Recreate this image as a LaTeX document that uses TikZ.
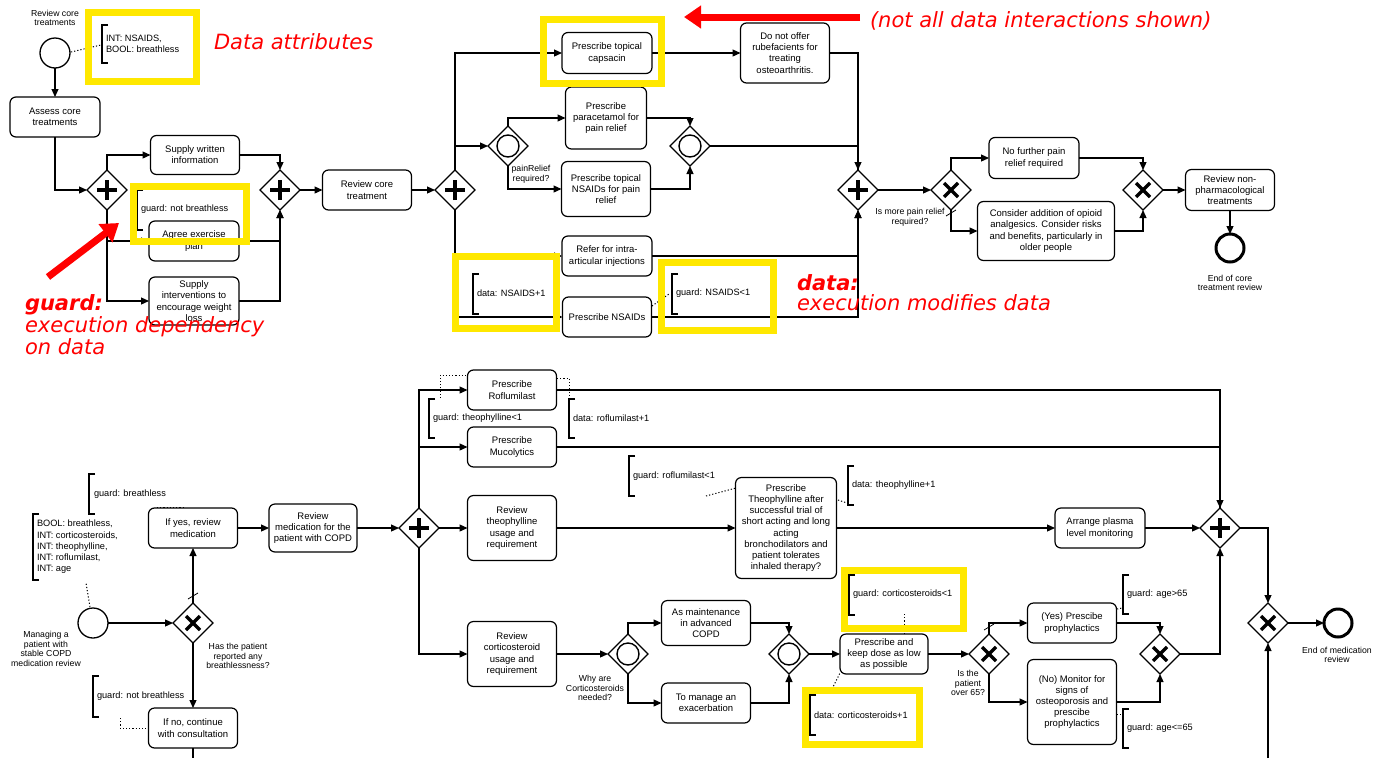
\documentclass[tikz,border=0pt]{standalone}
\usepackage{fontspec}
\setmainfont{Liberation Sans}
\newfontfamily\redf{DejaVu Sans}[ItalicFont={DejaVu Sans Oblique},BoldItalicFont={DejaVu Sans Bold Oblique},BoldFont={DejaVu Sans Bold}]
\usetikzlibrary{shapes.geometric,arrows.meta}
\definecolor{hl}{RGB}{255,232,0}
\definecolor{rd}{RGB}{255,0,0}
\newcommand{\brkt}[3]{\draw[line width=1.2pt] (#1+6,#2) -- (#1,#2) -- (#1,#3) -- (#1+6,#3);}
\begin{document}
\begin{tikzpicture}[x=1pt,y=-1pt,
  every node/.style={inner sep=0pt, outer sep=0pt},
  task/.style={draw, line width=1.2pt, rounded corners=6pt, align=center, font=\fontsize{9.5}{11.2}\selectfont},
  box/.style 2 args={task, minimum width=#1pt, minimum height=#2pt},
  gw/.style={diamond, draw, line width=1.2pt, minimum width=40pt, minimum height=40pt, fill=white},
  pgw/.style={gw, path picture={
     \draw[line width=4pt] ([xshift=-10pt]path picture bounding box.center) -- ([xshift=10pt]path picture bounding box.center);
     \draw[line width=4pt] ([yshift=-10pt]path picture bounding box.center) -- ([yshift=10pt]path picture bounding box.center);}},
  xgw/.style={gw, path picture={
     \draw[line width=3.3pt] ([shift={(-7pt,-7pt)}]path picture bounding box.center) -- ([shift={(7pt,7pt)}]path picture bounding box.center);
     \draw[line width=3.3pt] ([shift={(-7pt,7pt)}]path picture bounding box.center) -- ([shift={(7pt,-7pt)}]path picture bounding box.center);}},
  ogw/.style={gw, path picture={\draw[line width=1.4pt] (path picture bounding box.center) circle (11pt);}},
  ev/.style={circle, draw, line width=1.3pt, minimum size=30pt},
  endev/.style={circle, draw, line width=3pt, minimum size=28pt},
  lbl/.style={align=center, font=\fontsize{8.7}{9.5}\selectfont},
  ann/.style={anchor=west, align=left, font=\fontsize{9.2}{11.3}\selectfont},
  flow/.style={line width=1.2pt, -{Triangle[length=8pt, width=7pt]}},
  seq/.style={line width=1.2pt},
  assoc/.style={line width=1pt, dash pattern=on 1.2pt off 2pt},
  hlbox/.style={draw=hl, line width=7pt},
  redarrow/.style={draw=rd, line width=7pt, -{Triangle[length=17pt,width=22pt]}},
  redtxt/.style={anchor=west, align=left, text=rd, font=\redf\itshape\fontsize{21}{22}\selectfont}
]
\useasboundingbox (0,0) rectangle (1384,758);
\fill[white] (0,0) rectangle (1384,758);

% ================= TOP DIAGRAM =================
\node[ev] (st1) at (55,53) {};
\node[lbl] (st1l) at (55,18) {Review core\\treatments};
\node[ann] (a1) at (106,44) {INT: NSAIDS,\\BOOL: breathless};
\brkt{102}{25}{63}
\coordinate (a1c) at (101,45);
\draw[assoc] (71,52) -- (a1c);

\node[box={90}{40}] (assess) at (55,117) {Assess core\\treatments};
\node[pgw] (g1) at (107,190) {};
\node[pgw] (g2) at (280,190) {};
\node[box={89}{39}] (sw) at (195,155) {Supply written\\information};
\node[box={90}{40}] (agree) at (194,241) {Agree exercise\\plan};
\node[box={90}{48}] (supply) at (194,301) {Supply\\interventions to\\encourage weight\\loss};
\node[ann] (ga) at (141,209) {guard: not breathless};
\brkt{137}{190}{230}

\node[box={89}{40}] (rct) at (367,190) {Review core\\treatment};
\node[pgw] (g3) at (455,190) {};
\node[box={90}{41}] (cap) at (607,53) {Prescribe topical\\capsacin};
\node[ogw] (og1) at (508,146) {};
\node[lbl] (og1l) at (531,174) {painRelief\\required?};
\node[box={81}{62}] (para) at (606,118) {Prescribe\\paracetamol for\\pain relief};
\node[box={89}{55}] (tnsaid) at (606,189) {Prescribe topical\\NSAIDs for pain\\relief};
\node[ogw] (og2) at (690,146) {};
\node[box={89}{60}] (rube) at (785,53) {Do not offer\\rubefacients for\\treating\\osteoarthritis.};
\node[pgw] (g4) at (858,190) {};
\node[box={90}{40}] (refer) at (607,256) {Refer for intra-\\articular injections};
\node[box={89}{40}] (pnsaid) at (607,317) {Prescribe NSAIDs};
\node[ann] (dn) at (477,293) {data: NSAIDS+1};
\brkt{473}{274}{314}
\node[ann] (gn) at (676,293) {guard: NSAIDS<1};
\brkt{672}{274}{314}
\coordinate (gnc) at (669,294);
\draw[assoc] (652,306) -- (gnc);

\node[xgw] (x1) at (951,190) {};
\node[lbl] (x1l) at (910,217) {Is more pain relief\\required?};
\node[box={90}{41}] (nofur) at (1034,158) {No further pain\\relief required};
\node[box={137}{59}] (opioid) at (1046,231) {Consider addition of opioid\\analgesics. Consider risks\\and benefits, particularly in\\older people};
\node[xgw] (x2) at (1143,190) {};
\node[box={89}{41}] (rnp) at (1230,190) {Review non-\\pharmacological\\treatments};
\node[endev] (end1) at (1230,248) {};
\node[lbl] (end1l) at (1230,283) {End of core\\treatment review};

% top flows
\draw[flow] (st1.south) -- (assess.north);
\draw[flow] (assess.south) |- (g1.west);
\draw[flow] (g1.north) |- (sw.west);
\draw[flow] (g1.south) |- (agree.west);
\draw[flow] (g1.south) |- (supply.west);
\draw[flow] (sw.east) -| (g2.north);
\draw[flow] (agree.east) -| (g2.south);
\draw[flow] (supply.east) -| (g2.south);
\draw[flow] (g2.east) -- (rct.west);
\draw[flow] (rct.east) -- (g3.west);
\draw[flow] (g3.north) |- (cap.west);
\draw[flow] (g3.north) |- (og1.west);
\draw[flow] (og1.north) |- (para.west);
\draw[flow] (og1.south) |- (tnsaid.west);
\draw[flow] (para.east) -| (og2.north);
\draw[flow] (tnsaid.east) -| (og2.south);
\draw[flow] (cap.east) -- (rube.west);
\draw[flow] (rube.east) -| (g4.north);
\draw[seq] (og2.east) -| (g4.north);
\draw[flow] (g3.south) |- (refer.west);
\draw[flow] (g3.south) |- (pnsaid.west);
\draw[flow] (refer.east) -| (g4.south);
\draw[flow] (pnsaid.east) -| (g4.south);
\draw[flow] (g4.east) -- (x1.west);
\draw[flow] (x1.north) |- (nofur.west);
\draw[flow] (x1.south) |- (opioid.west);
\draw[line width=0.8pt] (946,216) -- (956,210);
\draw[flow] (nofur.east) -| (x2.north);
\draw[flow] (opioid.east) -| (x2.south);
\draw[flow] (x2.east) -- (rnp.west);
\draw[flow] (rnp.south) -- (end1.north);

% ================= BOTTOM DIAGRAM =================
\node[ev] (st2) at (93,623) {};
\node[lbl] (st2l) at (46,649) {Managing a\\patient with\\stable COPD\\medication review};
\node[ann] (a2) at (37,547) {BOOL: breathless,\\INT: corticosteroids,\\INT: theophylline,\\INT: roflumilast,\\INT: age};
\brkt{33}{514}{580}
\coordinate (a2c) at (86,583);
\draw[assoc] (90,607) -- (a2c);

\node[xgw] (x3) at (193,623) {};
\node[lbl] (x3l) at (238,656) {Has the patient\\reported any\\breathlessness?};
\node[box={89}{40}] (ifyes) at (193,528) {If yes, review\\medication};
\node[ann] (gb) at (94,494) {guard: breathless};
\brkt{89}{474}{514}
\coordinate (gbc) at (157,507);
\draw[assoc] (gbc) -- (183,507);
\node[box={89}{40}] (ifno) at (193,728) {If no, continue\\with consultation};
\node[ann] (gnb) at (97,696) {guard: not breathless};
\brkt{93}{676}{717}
\coordinate (gnbc) at (120,718);
\draw[assoc] (gnbc) |- (ifno.west);

\node[box={88}{48}] (rmed) at (313,528) {Review\\medication for the\\patient with COPD};
\node[pgw] (g7) at (419,528) {};
\node[box={89}{40}] (rof) at (512,390) {Prescribe\\Roflumilast};
\node[box={89}{40}] (muc) at (512,447) {Prescribe\\Mucolytics};
\node[box={89}{65}] (rth) at (512,528) {Review\\theophylline\\usage and\\requirement};
\node[box={89}{65}] (rcs) at (512,654) {Review\\corticosteroid\\usage and\\requirement};
\node[ann] (gt) at (433,418) {guard: theophylline<1};
\brkt{429}{399}{438}
\coordinate (gtc) at (440,398);
\draw[assoc] (gtc) -- (440,375) -- (468,375);
\node[ann] (dr) at (573,418) {data: roflumilast+1};
\brkt{569}{399}{438}
\coordinate (drc) at (569,396);
\draw[assoc] (557,378) -| (drc);

\node[box={101}{101}] (theo) at (786,528) {Prescribe\\Theophylline after\\successful trial of\\short acting and long\\acting\\bronchodilators and\\patient tolerates\\inhaled therapy?};
\node[ann] (gr) at (633,476) {guard: roflumilast<1};
\brkt{629}{456}{496}
\coordinate (grc) at (706,496);
\draw[assoc] (grc) -- (736,488);
\node[ann] (dt) at (852,485) {data: theophylline+1};
\brkt{848}{466}{505}
\coordinate (dtc) at (847,503);
\draw[assoc] (838,500) -- (dtc);
\node[box={90}{40}] (plasma) at (1100,528) {Arrange plasma\\level monitoring};
\node[pgw] (g8) at (1220,528) {};

\node[ogw] (og3) at (628,654) {};
\node[lbl] (og3l) at (595,688) {Why are\\Corticosteroids\\needed?};
\node[box={89}{45}] (maint) at (706,623) {As maintenance\\in advanced\\COPD};
\node[box={89}{40}] (exac) at (706,703) {To manage an\\exacerbation};
\node[ogw] (og4) at (789,654) {};
\node[box={88}{40}] (pkd) at (884,654) {Prescribe and\\keep dose as low\\as possible};
\node[ann] (gc) at (853,594) {guard: corticosteroids<1};
\brkt{849}{575}{615}
\coordinate (gcc) at (904,614);
\draw[assoc] (gcc) -- (pkd.north -| gcc);
\node[ann] (dc) at (814,715) {data: corticosteroids+1};
\brkt{810}{695}{735}
\coordinate (dcc) at (832,689);
\draw[assoc] (dcc) -- (840,673);

\node[xgw] (x4) at (989,654) {};
\node[lbl] (x4l) at (968,683) {Is the\\patient\\over 65?};
\node[box={89}{40}] (yes) at (1072,623) {(Yes) Prescibe\\prophylactics};
\node[box={89}{85}] (no) at (1072,702) {(No) Monitor for\\signs of\\osteoporosis and\\prescibe\\prophylactics};
\node[xgw] (x5) at (1160,654) {};
\node[ann] (ga1) at (1127,594) {guard: age>65};
\brkt{1123}{575}{614}
\coordinate (ga1c) at (1122,608);
\draw[assoc] (1117,609) -- (ga1c);
\node[ann] (ga2) at (1127,728) {guard: age<=65};
\brkt{1123}{709}{748}
\coordinate (ga2c) at (1122,714);
\draw[assoc] (1117,714) -- (ga2c);
\node[xgw] (x6) at (1268,623) {};
\node[endev] (end2) at (1338,623) {};
\node[lbl] (end2l) at (1337,655) {End of medication\\review};
\coordinate (bot1) at (193,758);
\coordinate (bot2) at (1268,758);

% bottom flows
\draw[flow] (st2.east) -- (x3.west);
\draw[flow] (x3.north) -- (ifyes.south);
\draw[line width=0.8pt] (188,599) -- (198,593);
\draw[flow] (x3.south) -- (ifno.north);
\draw[seq] (ifno.south) -- (bot1);
\draw[flow] (ifyes.east) -- (rmed.west);
\draw[flow] (rmed.east) -- (g7.west);
\draw[flow] (g7.north) |- (rof.west);
\draw[flow] (g7.north) |- (muc.west);
\draw[flow] (g7.east) -- (rth.west);
\draw[flow] (g7.south) |- (rcs.west);
\draw[flow] (rof.east) -| (g8.north);
\draw[seq] (muc.east) -| (g8.north);
\draw[flow] (rth.east) -- (theo.west);
\draw[flow] (theo.east) -- (plasma.west);
\draw[flow] (plasma.east) -- (g8.west);
\draw[flow] (rcs.east) -- (og3.west);
\draw[flow] (og3.north) |- (maint.west);
\draw[flow] (og3.south) |- (exac.west);
\draw[flow] (maint.east) -| (og4.north);
\draw[flow] (exac.east) -| (og4.south);
\draw[flow] (og4.east) -- (pkd.west);
\draw[flow] (pkd.east) -- (x4.west);
\draw[flow] (x4.north) |- (yes.west);
\draw[line width=0.8pt] (984,630) -- (994,624);
\draw[flow] (x4.south) |- (no.west);
\draw[flow] (yes.east) -| (x5.north);
\draw[flow] (no.east) -| (x5.south);
\draw[flow] (x5.east) -| (g8.south);
\draw[flow] (g8.east) -| (x6.north);
\draw[flow] (x6.east) -- (end2.west);
\draw[flow] (bot2) -- (x6.south);

% ================= HIGHLIGHTS =================
\draw[hlbox] (88.5,12.5) rectangle (196.5,81.5);
\draw[hlbox] (133.5,186.5) rectangle (246.5,241.5);
\draw[hlbox] (543.5,19.5) rectangle (661.5,83.5);
\draw[hlbox] (455.5,256.5) rectangle (556.5,328.5);
\draw[hlbox] (661.5,262.5) rectangle (773.5,330.5);
\draw[hlbox] (844.5,570.5) rectangle (963.5,628.5);
\draw[hlbox] (805.5,690.5) rectangle (919.5,744.5);

% ================= RED ANNOTATIONS =================
\node[redtxt] (t1) at (214,42) {Data attributes};
\node[redtxt] (t2) at (870,21) {(not all data interactions shown)};
\coordinate (r2s) at (860,17);
\coordinate (r2e) at (684,17);
\draw[redarrow] (r2s) -- (r2e);
\node[redtxt] (t3) at (25,325) {\textbf{guard:}\\execution dependency\\on data};
\coordinate (r1s) at (48,277);
\coordinate (r1e) at (119,223);
\draw[redarrow] (r1s) -- (r1e);
\node[redtxt, font=\redf\itshape\fontsize{21}{20}\selectfont] (t4) at (797,293) {\textbf{data:}\\execution modifies data};
\end{tikzpicture}
\end{document}
